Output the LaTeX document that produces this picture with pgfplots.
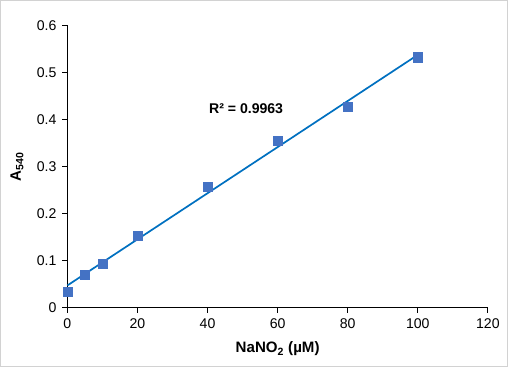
\documentclass[border=0pt]{standalone}
\usepackage{pgfplots}
\pgfplotsset{compat=1.18}
\usepackage{fontspec}
\setmainfont{Liberation Sans}
\definecolor{mk}{HTML}{4472C4}
\definecolor{ln}{HTML}{0070C0}
\begin{document}
\fontsize{14pt}{16pt}\selectfont
\begin{tikzpicture}[x=1pt,y=1pt]
\draw[gray!35, line width=1.2pt] (-66.4,-58.4) rectangle (437.4,305.4);
\begin{axis}[
  at={(0,0)}, anchor=origin,
  scale only axis, width=418pt, height=281pt,
  xmin=0, xmax=120, ymin=0, ymax=0.6,
  axis x line*=bottom, axis y line*=left,
  axis line style={black, line width=1.1pt, -},
  xtick={0,20,...,120}, ytick={0,0.1,...,0.6},
  tick align=outside, major tick length=5pt,
  tick style={black, line width=1.1pt},
  /pgf/number format/assume math mode=true,
  yticklabel style={/pgf/number format/fixed, /pgf/number format/precision=1, font=\fontsize{14pt}{16pt}\selectfont, xshift=-1pt},
  xticklabel style={font=\fontsize{14pt}{16pt}\selectfont, yshift=-1pt},
  xlabel={\textbf{NaNO\textsubscript{2} (µM)}},
  ylabel={\textbf{A\textsubscript{540}}},
  xlabel style={font=\fontsize{15pt}{17pt}\selectfont, at={(axis description cs:0.5,0)}, anchor=north, yshift=-29pt},
  ylabel style={font=\fontsize{15pt}{17pt}\selectfont, at={(axis description cs:-0.12,0.5)}, anchor=center},
  clip=false,
]
\addplot[ln, line width=1.7pt, no marks] coordinates {(0,0.0475) (100,0.537)};
\addplot[only marks, mark=square*, mark size=4.5pt, mark options={fill=mk, draw=mk}] coordinates {
(0,0.034) (5,0.070) (10,0.094) (20,0.153) (40,0.258) (60,0.354) (80,0.426) (100,0.532)};
\node[font=\bfseries\fontsize{14pt}{16pt}\selectfont] at (axis cs:51,0.423) {R² = 0.9963};
\end{axis}
\end{tikzpicture}
\end{document}
